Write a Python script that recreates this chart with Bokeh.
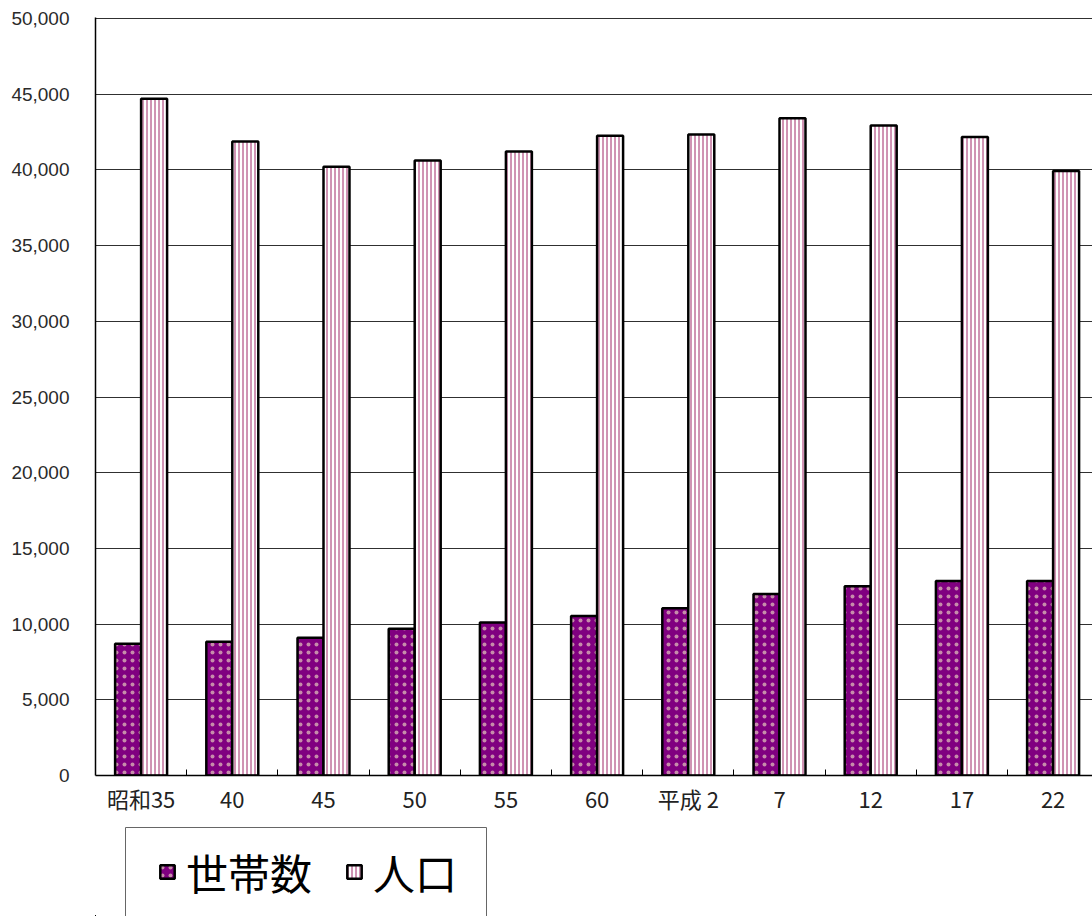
import numpy as np
from bokeh.plotting import figure
from bokeh.layouts import column
from bokeh.models import (ColumnDataSource, FixedTicker, NumeralTickFormatter,
                          Range1d, Legend, LegendItem, BoxAnnotation)
from bokeh.embed import file_html
from bokeh.resources import INLINE

# ---- data ----
categories = ["昭和35", "40", "45", "50", "55", "60", "平成 2", "7", "12", "17", "22"]
households = [8700, 8830, 9100, 9700, 10110, 10530, 11040, 11990, 12500, 12850, 12850]
population = [44700, 41880, 40200, 40620, 41210, 42260, 42340, 43410, 42940, 42170, 39930]
y_ticks = [0, 5000, 10000, 15000, 20000, 25000, 30000, 35000, 40000, 45000, 50000]
series_names = ["世帯数", "人口"]

idx = np.arange(len(categories))
bar_w = 0.285
src = ColumnDataSource(dict(
    x_h=idx - bar_w / 2,
    x_p=idx + bar_w / 2,
    households=households,
    population=population,
))

W = 1092
P_H = 820
Q_H = 916 - P_H
left, top, bottom = 95, 17, P_H - 775
cat_px = 91.2
x_end = -0.5 + (W - left) / cat_px
frame_h = P_H - top - bottom
y_end = 50000 * frame_h / (frame_h - 1)

h_style = dict(fill_color="#800080", line_color="black", line_width=2.5,
               hatch_pattern="dot", hatch_color="#ffffcc", hatch_scale=8,
               hatch_weight=1, hatch_alpha=0.55)
p_style = dict(fill_color="white", line_color="black", line_width=2.5,
               hatch_pattern="vertical_line", hatch_color="#a02868", hatch_scale=4,
               hatch_weight=1)

p = figure(width=W, height=P_H, output_backend="svg", toolbar_location=None,
           x_range=Range1d(-0.5, x_end), y_range=Range1d(0, y_end),
           min_border_left=left, min_border_top=top, min_border_bottom=bottom,
           min_border_right=0)
p.outline_line_color = None
p.background_fill_color = "white"
p.border_fill_color = "white"

p.vbar(x="x_h", top="households", width=bar_w, source=src, **h_style)
p.vbar(x="x_p", top="population", width=bar_w, source=src, **p_style)

# grid
p.xgrid.visible = False
p.ygrid.ticker = FixedTicker(ticks=y_ticks)
p.ygrid.grid_line_color = "#303030"
p.ygrid.grid_line_width = 1

# y axis
p.yaxis.ticker = FixedTicker(ticks=y_ticks)
p.yaxis.formatter = NumeralTickFormatter(format="0,0")
p.yaxis.major_tick_in = 0
p.yaxis.major_tick_out = 0
p.yaxis.minor_tick_line_color = None
p.yaxis.axis_line_color = "black"
p.yaxis.axis_line_width = 1.5
p.yaxis.major_label_standoff = 26
p.yaxis.major_label_text_font = "Liberation Sans"
p.yaxis.major_label_text_font_size = "19px"
p.yaxis.major_label_text_color = "#2a2a2a"

# x axis
p.xaxis.ticker = FixedTicker(ticks=list(idx), minor_ticks=list(idx + 0.5))
p.xaxis.major_label_overrides = {int(i): c for i, c in zip(idx, categories)}
p.xaxis.major_tick_in = 0
p.xaxis.major_tick_out = 0
p.xaxis.minor_tick_in = 6
p.xaxis.minor_tick_out = 0
p.xaxis.minor_tick_line_color = "black"
p.xaxis.axis_line_color = "black"
p.xaxis.axis_line_width = 1.5
p.xaxis.major_label_standoff = 6
p.xaxis.major_label_text_font = "Noto Sans CJK JP"
p.xaxis.major_label_text_font_size = "22px"
p.xaxis.major_label_text_color = "#222222"

# ---- legend strip (below the chart, cut by the page edge like the reference) ----
# the series are drawn here too, but outside this strip's visible ranges,
# so only their legend swatches show
q = figure(width=W, height=Q_H, output_backend="svg", toolbar_location=None,
           x_range=Range1d(1000, 1001), y_range=Range1d(60000, 70000),
           x_axis_type=None, y_axis_type=None, min_border=0)
q.outline_line_color = None
q.xgrid.visible = False
q.ygrid.visible = False
lh = q.vbar(x="x_h", top="households", width=bar_w, source=src, **h_style)
lp = q.vbar(x="x_p", top="population", width=bar_w, source=src, **p_style)

# legend frame
q.add_layout(BoxAnnotation(left=125, right=486, top=7, bottom=200,
                           left_units="canvas", right_units="canvas",
                           top_units="canvas", bottom_units="canvas",
                           fill_alpha=0, line_color="#666666", line_width=1,
                           line_alpha=1))

legend = Legend(items=[LegendItem(label=series_names[0], renderers=[lh], index=0),
                       LegendItem(label=series_names[1], renderers=[lp], index=0)],
                orientation="horizontal", location=(63, 14),
                label_text_font="Noto Sans CJK JP", label_text_font_size="42px",
                label_text_color="black",
                glyph_width=18, glyph_height=17, label_standoff=10,
                spacing=33, padding=10, margin=0,
                border_line_color=None, background_fill_alpha=0)
q.add_layout(legend, "center")

layout = column(p, q, spacing=0)
open("out.html", "w").write(file_html(layout, INLINE))
